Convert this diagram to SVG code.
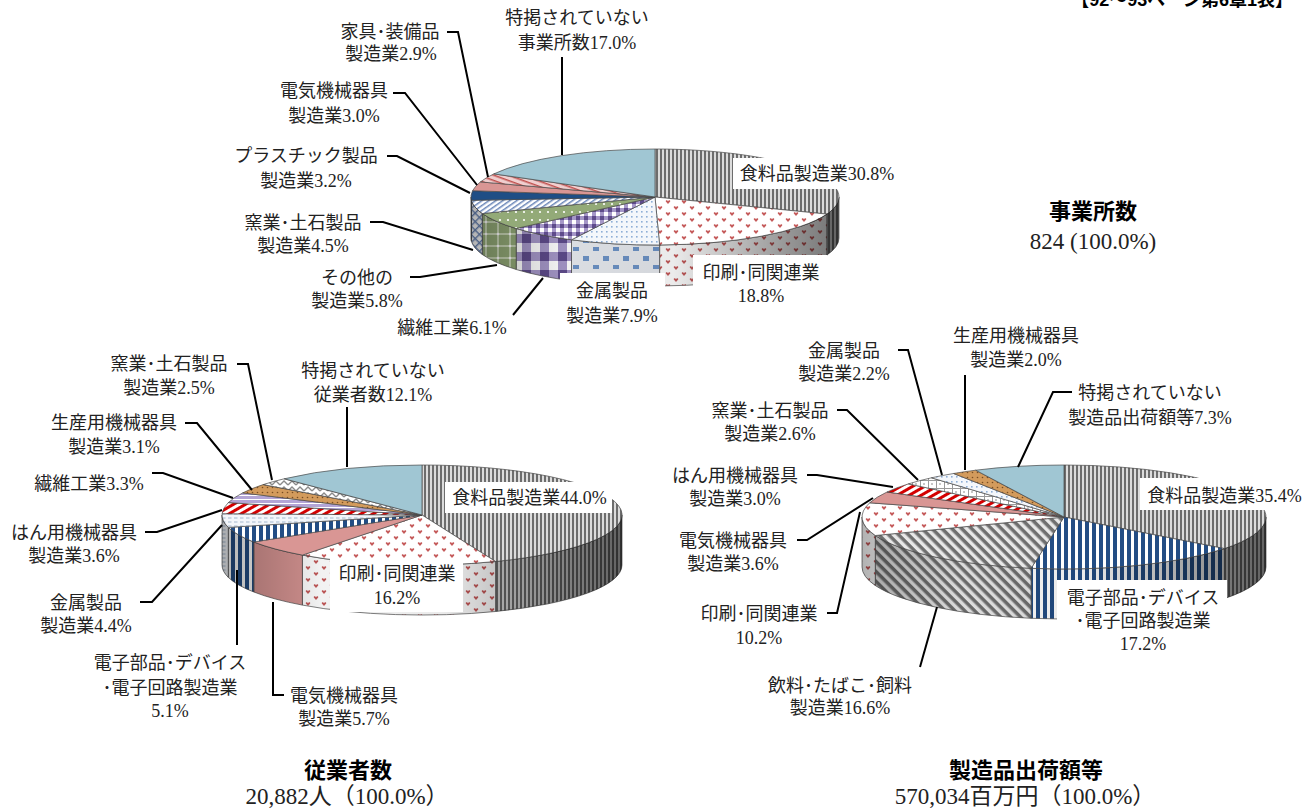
<svg xmlns="http://www.w3.org/2000/svg" width="1313" height="812" viewBox="0 0 1313 812">
<style>
.lbl{font-family:"Liberation Serif","Noto Sans CJK JP",serif;font-size:18px;fill:#222;text-anchor:middle}
.ttl{font-family:"Liberation Sans","Noto Sans CJK JP",sans-serif;font-weight:700;font-size:22px;fill:#000;text-anchor:middle}
.tot{font-family:"Liberation Serif","Noto Sans CJK JP",serif;font-size:23px;fill:#222;text-anchor:middle}
.hdr{font-family:"Liberation Sans","Noto Sans CJK JP",sans-serif;font-weight:700;font-size:18px;fill:#000;text-anchor:end}
.ld{fill:none;stroke:#000;stroke-width:2}
.sl{stroke:#474747;stroke-width:0.7;stroke-linejoin:round}
.shade{fill:url(#shade);stroke:none}
.box{fill:#fff}
</style>
<defs>
<linearGradient id="shade" x1="0" y1="0" x2="1" y2="0">
<stop offset="0" stop-color="#000" stop-opacity="0.30"/>
<stop offset="0.25" stop-color="#000" stop-opacity="0.05"/>
<stop offset="0.55" stop-color="#000" stop-opacity="0.08"/>
<stop offset="0.85" stop-color="#000" stop-opacity="0.40"/>
<stop offset="1" stop-color="#000" stop-opacity="0.55"/>
</linearGradient>
<pattern id="pFood" patternUnits="userSpaceOnUse" width="4" height="4"><rect width="4" height="4" fill="#dcdcdc"/><rect width="2" height="4" fill="#6d6d6d"/></pattern>
<pattern id="pHeart" patternUnits="userSpaceOnUse" width="16" height="12"><rect width="16" height="12" fill="#fff"/><path d="M4,3.2C3.4,1.8 1.4,2.2 1.8,3.6L4,6L6.2,3.6C6.6,2.2 4.6,1.8 4,3.2Z" fill="#c55a5a"/><path d="M12,9.2C11.4,7.8 9.4,8.2 9.8,9.6L12,12L14.2,9.6C14.6,8.2 12.6,7.8 12,9.2Z" fill="#c55a5a"/></pattern>
<pattern id="pDots" patternUnits="userSpaceOnUse" width="5" height="5"><rect width="5" height="5" fill="#f4f7fb"/><rect x="1" y="1" width="1.6" height="1.6" fill="#8eaed6"/></pattern>
<pattern id="pSquares" patternUnits="userSpaceOnUse" width="20" height="18"><rect width="20" height="18" fill="#e6e9ee"/><rect x="3" y="4" width="6" height="5" fill="#6d93c6"/><rect x="13" y="13" width="6" height="4" fill="#6d93c6"/></pattern>
<pattern id="pCheck" patternUnits="userSpaceOnUse" width="8" height="8"><rect width="8" height="8" fill="#fff"/><rect width="4" height="4" fill="#5e4b8b"/><rect x="4" width="4" height="4" fill="#a597c8"/><rect y="4" width="4" height="4" fill="#a597c8"/></pattern>
<pattern id="pCheckL" patternUnits="userSpaceOnUse" width="18" height="18"><rect width="18" height="18" fill="#fff"/><rect width="9" height="9" fill="#5e4b8b"/><rect x="9" width="9" height="9" fill="#a597c8"/><rect y="9" width="9" height="9" fill="#a597c8"/></pattern>
<pattern id="pGreen" patternUnits="userSpaceOnUse" width="8" height="8"><rect width="8" height="8" fill="#93aa78"/><circle cx="4" cy="4" r="1.1" fill="#fff"/></pattern>
<pattern id="pGreenL" patternUnits="userSpaceOnUse" width="12" height="12"><rect width="12" height="12" fill="#94ab78"/><rect y="5" width="12" height="2" fill="#c8d6b5"/><rect x="5" width="2" height="12" fill="#c8d6b5"/><circle cx="6" cy="6" r="1.3" fill="#fff"/></pattern>
<pattern id="pDiagBlue" patternUnits="userSpaceOnUse" width="4" height="4" patternTransform="rotate(-35)"><rect width="4" height="4" fill="#fff"/><rect width="4" height="1.5" fill="#6a86b8"/></pattern>
<pattern id="pHatchBlue" patternUnits="userSpaceOnUse" width="6" height="6" patternTransform="rotate(45)"><rect width="6" height="6" fill="#fff"/><rect width="6" height="1.4" fill="#6a86b8"/><rect width="1.4" height="6" fill="#6a86b8"/></pattern>
<pattern id="pPinkHatch" patternUnits="userSpaceOnUse" width="5" height="5" patternTransform="rotate(20)"><rect width="5" height="5" fill="#f0cfcf"/><rect width="5" height="1.5" fill="#c0504d"/></pattern>
<pattern id="pZig" patternUnits="userSpaceOnUse" width="8" height="6"><rect width="8" height="6" fill="#fff"/><polyline points="0,5 4,1 8,5" fill="none" stroke="#8a8a8a" stroke-width="1.3"/></pattern>
<pattern id="pOrange" patternUnits="userSpaceOnUse" width="5" height="5"><rect width="5" height="5" fill="#d39b5c"/><circle cx="2.5" cy="2.5" r="0.8" fill="#7a4e22"/></pattern>
<pattern id="pLav" patternUnits="userSpaceOnUse" width="4" height="4"><rect width="4" height="4" fill="#b3a5d6"/><rect y="3" width="4" height="1" fill="#fff"/></pattern>
<pattern id="pRed" patternUnits="userSpaceOnUse" width="6" height="6" patternTransform="rotate(-30)"><rect width="6" height="6" fill="#fff"/><rect width="6" height="3" fill="#d40000"/></pattern>
<pattern id="pDash" patternUnits="userSpaceOnUse" width="6" height="4"><rect width="6" height="4" fill="#f3f6fa"/><rect y="1.5" width="3.5" height="1" fill="#a6b8ce"/></pattern>
<pattern id="pBlue" patternUnits="userSpaceOnUse" width="7" height="7"><rect width="7" height="7" fill="#fff"/><rect width="4" height="7" fill="#234d84"/></pattern>
<pattern id="pGrid" patternUnits="userSpaceOnUse" width="8" height="8"><rect width="8" height="8" fill="#fff"/><path d="M0,0.5H8M0.5,0V8" stroke="#9a9a9a" stroke-width="1"/><rect x="3" y="3" width="2" height="2" fill="#c6c6c6"/></pattern>
<pattern id="pDiagGray" patternUnits="userSpaceOnUse" width="7" height="7" patternTransform="rotate(45)"><rect width="7" height="7" fill="#e8e8e8"/><rect width="7" height="3.5" fill="#6f6f6f"/></pattern>
</defs>

<text class="hdr" x="1293" y="6">【92～93ページ第6章1表】</text>

<!-- 事業所数 pie -->
<g id="pie-jigyosho">
<g id="t-food"><path class="sl" fill="url(#pFood)" d="M839,197 A184,48 0 0 1 826.9,214.1 L826.9,255.1 A184,48 0 0 0 839,238 Z"/><path class="sl" fill="url(#pFood)" d="M655,197 L655,149 A184,48 0 0 1 826.9,214.1 Z"/></g>
<g id="t-print"><path class="sl" fill="url(#pHeart)" d="M826.9,214.1 A184,48 0 0 1 659.6,245 L659.6,286 A184,48 0 0 0 826.9,255.1 Z"/><path class="sl" fill="url(#pHeart)" d="M655,197 L826.9,214.1 A184,48 0 0 1 659.6,245 Z"/></g>
<g id="t-metal"><path class="sl" fill="url(#pSquares)" d="M659.6,245 A184,48 0 0 1 571.5,239.8 L571.5,280.8 A184,48 0 0 0 659.6,286 Z"/><path class="sl" fill="url(#pDots)" d="M655,197 L659.6,245 A184,48 0 0 1 571.5,239.8 Z"/></g>
<g id="t-textile"><path class="sl" fill="url(#pCheckL)" d="M571.5,239.8 A184,48 0 0 1 516.2,228.5 L516.2,269.5 A184,48 0 0 0 571.5,280.8 Z"/><path class="sl" fill="url(#pCheck)" d="M655,197 L571.5,239.8 A184,48 0 0 1 516.2,228.5 Z"/></g>
<g id="t-other"><path class="sl" fill="url(#pGreenL)" d="M516.2,228.5 A184,48 0 0 1 482.3,213.5 L482.3,254.5 A184,48 0 0 0 516.2,269.5 Z"/><path class="sl" fill="url(#pGreen)" d="M655,197 L516.2,228.5 A184,48 0 0 1 482.3,213.5 Z"/></g>
<g id="t-ceramic"><path class="sl" fill="url(#pHatchBlue)" d="M482.3,213.5 A184,48 0 0 1 471.4,200.3 L471.4,241.3 A184,48 0 0 0 482.3,254.5 Z"/><path class="sl" fill="url(#pDiagBlue)" d="M655,197 L482.3,213.5 A184,48 0 0 1 471.4,200.3 Z"/></g>
<g id="t-plastic"><path class="sl" fill="#1f4e85" d="M471.4,200.3 A184,48 0 0 1 471,197 L471,238 A184,48 0 0 0 471.4,241.3 Z"/><path class="sl" fill="#1f4e85" d="M655,197 L471.4,200.3 A184,48 0 0 1 472.6,190.7 Z"/></g>
<g id="t-elec"><path class="sl" fill="#d99694" d="M655,197 L472.6,190.7 A184,48 0 0 1 480.4,181.9 Z"/></g>
<g id="t-furn"><path class="sl" fill="url(#pPinkHatch)" d="M655,197 L480.4,181.9 A184,48 0 0 1 493.8,173.9 Z"/></g>
<g id="t-unl"><path class="sl" fill="#a0c6d3" d="M655,197 L493.8,173.9 A184,48 0 0 1 655,149 Z"/></g>
<path class="shade" d="M839,197 A184,48 0 0 1 655,245 A184,48 0 0 1 471,197 L471,238 A184,48 0 0 0 655,286 A184,48 0 0 0 839,238 Z"/>
</g>

<!-- 従業者数 pie -->
<g id="pie-jugyosha">
<g id="e-food"><path class="sl" fill="url(#pFood)" d="M622,515 A200,50 0 0 1 495.6,561.5 L495.6,611.5 A200,50 0 0 0 622,565 Z"/><path class="sl" fill="url(#pFood)" d="M422,515 L422,465 A200,50 0 0 1 495.6,561.5 Z"/></g>
<g id="e-print"><path class="sl" fill="url(#pHeart)" d="M495.6,561.5 A200,50 0 0 1 302.4,555.1 L302.4,605.1 A200,50 0 0 0 495.6,611.5 Z"/><path class="sl" fill="url(#pHeart)" d="M422,515 L495.6,561.5 A200,50 0 0 1 302.4,555.1 Z"/></g>
<g id="e-elec"><path class="sl" fill="#d99694" d="M302.4,555.1 A200,50 0 0 1 253.8,542 L253.8,592 A200,50 0 0 0 302.4,605.1 Z"/><path class="sl" fill="#d99694" d="M422,515 L302.4,555.1 A200,50 0 0 1 253.8,542 Z"/></g>
<g id="e-denshi"><path class="sl" fill="url(#pBlue)" d="M253.8,542 A200,50 0 0 1 228.3,527.4 L228.3,577.4 A200,50 0 0 0 253.8,592 Z"/><path class="sl" fill="url(#pBlue)" d="M422,515 L253.8,542 A200,50 0 0 1 228.3,527.4 Z"/></g>
<g id="e-metal"><path class="sl" fill="url(#pDash)" d="M228.3,527.4 A200,50 0 0 1 222,515 L222,565 A200,50 0 0 0 228.3,577.4 Z"/><path class="sl" fill="url(#pDash)" d="M422,515 L228.3,527.4 A200,50 0 0 1 222.1,513.7 Z"/></g>
<g id="e-hanyo"><path class="sl" fill="url(#pRed)" d="M422,515 L222.1,513.7 A200,50 0 0 1 228.3,502.6 Z"/></g>
<g id="e-textile"><path class="sl" fill="url(#pLav)" d="M422,515 L228.3,502.6 A200,50 0 0 1 242.7,492.9 Z"/></g>
<g id="e-seisan"><path class="sl" fill="url(#pOrange)" d="M422,515 L242.7,492.9 A200,50 0 0 1 263.2,484.6 Z"/></g>
<g id="e-ceramic"><path class="sl" fill="url(#pZig)" d="M422,515 L263.2,484.6 A200,50 0 0 1 284.2,478.8 Z"/></g>
<g id="e-unl"><path class="sl" fill="#a0c6d3" d="M422,515 L284.2,478.8 A200,50 0 0 1 422,465 Z"/></g>
<path class="shade" d="M622,515 A200,50 0 0 1 422,565 A200,50 0 0 1 222,515 L222,565 A200,50 0 0 0 422,615 A200,50 0 0 0 622,565 Z"/>
</g>

<!-- 製造品出荷額等 pie -->
<g id="pie-shukka">
<g id="s-food"><path class="sl" fill="url(#pFood)" d="M1266,517 A202,52 0 0 1 1224.4,548.6 L1224.4,598.6 A202,52 0 0 0 1266,567 Z"/><path class="sl" fill="url(#pFood)" d="M1064,517 L1064,465 A202,52 0 0 1 1224.4,548.6 Z"/></g>
<g id="s-denshi"><path class="sl" fill="url(#pBlue)" d="M1224.4,548.6 A202,52 0 0 1 1031.1,568.3 L1031.1,618.3 A202,52 0 0 0 1224.4,598.6 Z"/><path class="sl" fill="url(#pBlue)" d="M1064,517 L1224.4,548.6 A202,52 0 0 1 1031.1,568.3 Z"/></g>
<g id="s-drink"><path class="sl" fill="url(#pDiagGray)" d="M1031.1,568.3 A202,52 0 0 1 875.3,535.5 L875.3,585.5 A202,52 0 0 0 1031.1,618.3 Z"/><path class="sl" fill="url(#pDiagGray)" d="M1064,517 L1031.1,568.3 A202,52 0 0 1 875.3,535.5 Z"/></g>
<g id="s-print"><path class="sl" fill="url(#pHeart)" d="M875.3,535.5 A202,52 0 0 1 862,517 L862,567 A202,52 0 0 0 875.3,585.5 Z"/><path class="sl" fill="url(#pHeart)" d="M1064,517 L875.3,535.5 A202,52 0 0 1 869.7,502.8 Z"/></g>
<g id="s-elec"><path class="sl" fill="#d99694" d="M1064,517 L869.7,502.8 A202,52 0 0 1 887,492 Z"/></g>
<g id="s-hanyo"><path class="sl" fill="url(#pRed)" d="M1064,517 L887,492 A202,52 0 0 1 908.4,483.9 Z"/></g>
<g id="s-ceramic"><path class="sl" fill="url(#pGrid)" d="M1064,517 L908.4,483.9 A202,52 0 0 1 931.4,477.8 Z"/></g>
<g id="s-metal"><path class="sl" fill="url(#pDots)" d="M1064,517 L931.4,477.8 A202,52 0 0 1 953.6,473.5 Z"/></g>
<g id="s-seisan"><path class="sl" fill="url(#pOrange)" d="M1064,517 L953.6,473.5 A202,52 0 0 1 975.7,470.2 Z"/></g>
<g id="s-unl"><path class="sl" fill="#a0c6d3" d="M1064,517 L975.7,470.2 A202,52 0 0 1 1064,465 Z"/></g>
<path class="shade" d="M1266,517 A202,52 0 0 1 1064,569 A202,52 0 0 1 862,517 L862,567 A202,52 0 0 0 1064,619 A202,52 0 0 0 1266,567 Z"/>
</g>

<!-- connectors -->
<g id="connectors">
<path class="ld" d="M447,32 H458 L488,177"/>
<path class="ld" d="M562,57 V155"/>
<path class="ld" d="M393,93 H405 L477,185"/>
<path class="ld" d="M387,156 H397 L470,193"/>
<path class="ld" d="M370,222 H383 L473,250"/>
<path class="ld" d="M410,277 H420 L497,265"/>
<path class="ld" d="M513,315 L543,278"/>
<path class="ld" d="M237,364 H248 L272,480"/>
<path class="ld" d="M185,423 H197 L252,490"/>
<path class="ld" d="M152,473 H163 L233,498"/>
<path class="ld" d="M145,532 H157 L222,510"/>
<path class="ld" d="M140,602 H152 L222,525"/>
<path class="ld" d="M237,570 V645"/>
<path class="ld" d="M273,602 V695 H284"/>
<path class="ld" d="M347,407 V467"/>
<path class="ld" d="M898,350 H908 L942,475"/>
<path class="ld" d="M965,375 V470"/>
<path class="ld" d="M1072,392 H1053 L1018,467"/>
<path class="ld" d="M837,410 H847 L918,480"/>
<path class="ld" d="M807,475 H817 L893,487"/>
<path class="ld" d="M797,540 H807 L873,498"/>
<path class="ld" d="M827,613 H837 L860,512"/>
<path class="ld" d="M920,667 L937,607"/>
</g>

<!-- labels: 事業所数 -->
<g id="lt-furn"><text class="lbl" x="390" y="38">家具･装備品</text><text class="lbl" x="391" y="60">製造業2.9%</text></g>
<g id="lt-unl"><text class="lbl" x="577" y="23.5">特掲されていない</text><text class="lbl" x="577" y="48.5">事業所数17.0%</text></g>
<g id="lt-elec"><text class="lbl" x="334" y="96.5">電気機械器具</text><text class="lbl" x="334" y="121.5">製造業3.0%</text></g>
<g id="lt-plastic"><text class="lbl" x="306" y="161.5">プラスチック製品</text><text class="lbl" x="306" y="186.5">製造業3.2%</text></g>
<g id="lt-ceramic"><text class="lbl" x="303" y="228.5">窯業･土石製品</text><text class="lbl" x="303" y="251.5">製造業4.5%</text></g>
<g id="lt-other"><text class="lbl" x="357" y="283.5">その他の</text><text class="lbl" x="357" y="306.5">製造業5.8%</text></g>
<g id="lt-textile"><text class="lbl" x="452" y="333.5">繊維工業6.1%</text></g>
<g id="lt-metal"><rect class="box" x="560" y="273" width="105" height="52"/><text class="lbl" x="612" y="296.5">金属製品</text><text class="lbl" x="612" y="321.5">製造業7.9%</text></g>
<g id="lt-print"><rect class="box" x="693" y="255" width="134" height="50"/><text class="lbl" x="761" y="278.5">印刷･同関連業</text><text class="lbl" x="761" y="301.5">18.8%</text></g>
<g id="lt-food"><rect class="box" x="733" y="158" width="166" height="31"/><text class="lbl" x="817" y="179.5">食料品製造業30.8%</text></g>
<g id="title-jigyosho"><text class="ttl" x="1093" y="219">事業所数</text><text class="tot" x="1093" y="248.5">824 (100.0%)</text></g>

<!-- labels: 従業者数 -->
<g id="le-ceramic"><text class="lbl" x="169" y="369.5">窯業･土石製品</text><text class="lbl" x="169" y="393.5">製造業2.5%</text></g>
<g id="le-seisan"><text class="lbl" x="114" y="428.5">生産用機械器具</text><text class="lbl" x="114" y="452.5">製造業3.1%</text></g>
<g id="le-textile"><text class="lbl" x="89" y="489.5">繊維工業3.3%</text></g>
<g id="le-hanyo"><text class="lbl" x="74" y="538.5">はん用機械器具</text><text class="lbl" x="74" y="561.5">製造業3.6%</text></g>
<g id="le-metal"><text class="lbl" x="86" y="608.5">金属製品</text><text class="lbl" x="86" y="631.5">製造業4.4%</text></g>
<g id="le-denshi"><text class="lbl" x="170" y="668.5">電子部品･デバイス</text><text class="lbl" x="170" y="693.5">･電子回路製造業</text><text class="lbl" x="170" y="716.5">5.1%</text></g>
<g id="le-elec"><text class="lbl" x="344" y="701.5">電気機械器具</text><text class="lbl" x="344" y="724.5">製造業5.7%</text></g>
<g id="le-unl"><text class="lbl" x="373" y="376.5">特掲されていない</text><text class="lbl" x="373" y="400.5">従業者数12.1%</text></g>
<g id="le-food"><rect class="box" x="445" y="482" width="167" height="31"/><text class="lbl" x="529.5" y="503.5">食料品製造業44.0%</text></g>
<g id="le-print"><rect class="box" x="330" y="558" width="133" height="54"/><text class="lbl" x="397" y="579.5">印刷･同関連業</text><text class="lbl" x="397" y="603.5">16.2%</text></g>
<g id="title-jugyosha"><text class="ttl" x="348" y="778">従業者数</text><text class="tot" x="347" y="803.5">20,882人（100.0%）</text></g>

<!-- labels: 製造品出荷額等 -->
<g id="ls-metal"><text class="lbl" x="844" y="356.5">金属製品</text><text class="lbl" x="844" y="379.5">製造業2.2%</text></g>
<g id="ls-seisan"><text class="lbl" x="1016" y="341.5">生産用機械器具</text><text class="lbl" x="1016" y="365.5">製造業2.0%</text></g>
<g id="ls-unl"><text class="lbl" x="1150" y="398.5">特掲されていない</text><text class="lbl" x="1150" y="423.5">製造品出荷額等7.3%</text></g>
<g id="ls-ceramic"><text class="lbl" x="770" y="416.5">窯業･土石製品</text><text class="lbl" x="770" y="439.5">製造業2.6%</text></g>
<g id="ls-hanyo"><text class="lbl" x="735" y="481.5">はん用機械器具</text><text class="lbl" x="735" y="504.5">製造業3.0%</text></g>
<g id="ls-elec"><text class="lbl" x="733" y="546.5">電気機械器具</text><text class="lbl" x="733" y="569.5">製造業3.6%</text></g>
<g id="ls-print"><text class="lbl" x="759" y="619.5">印刷･同関連業</text><text class="lbl" x="759" y="643.5">10.2%</text></g>
<g id="ls-drink"><text class="lbl" x="840" y="691.5">飲料･たばこ･飼料</text><text class="lbl" x="840" y="713.5">製造業16.6%</text></g>
<g id="ls-food"><rect class="box" x="1140" y="478" width="167" height="32"/><text class="lbl" x="1224.5" y="501.5">食料品製造業35.4%</text></g>
<g id="ls-denshi"><rect class="box" x="1057" y="580" width="170" height="76"/><text class="lbl" x="1143" y="603.5">電子部品･デバイス</text><text class="lbl" x="1143" y="626.5">･電子回路製造業</text><text class="lbl" x="1143" y="649.5">17.2%</text></g>
<g id="title-shukka"><text class="ttl" x="1026" y="778">製造品出荷額等</text><text class="tot" x="1025" y="803.5">570,034百万円（100.0%）</text></g>
</svg>
